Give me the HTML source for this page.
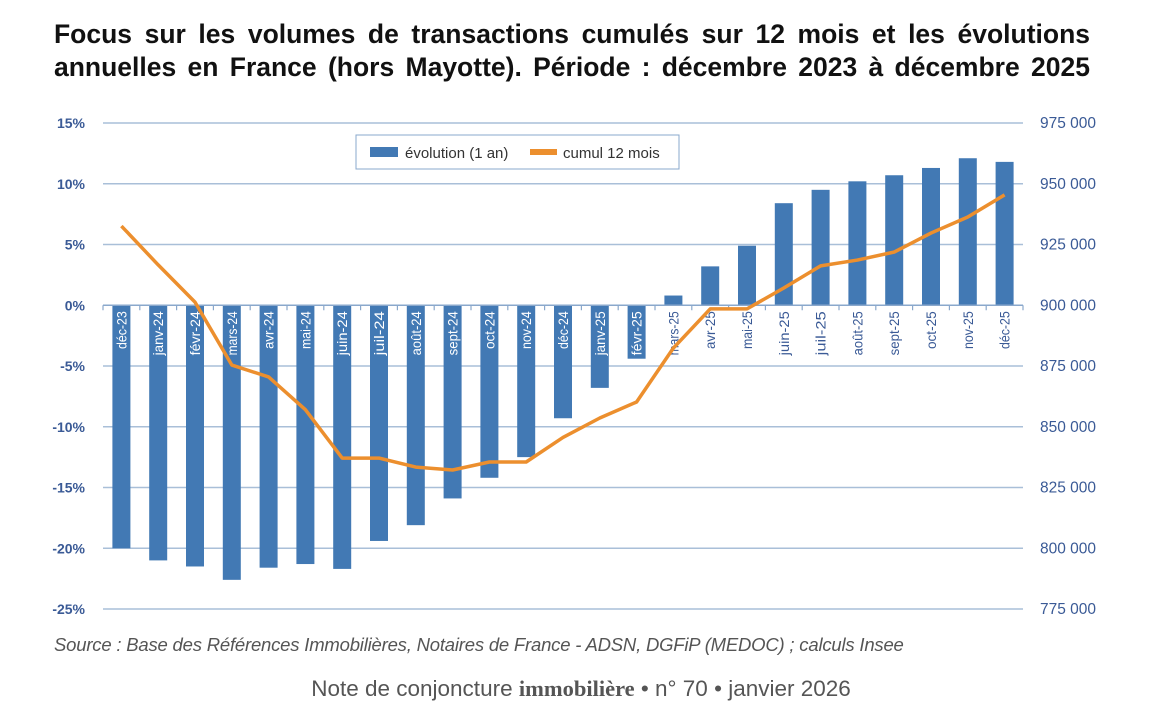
<!DOCTYPE html>
<html><head><meta charset="utf-8"><style>
body{margin:0;background:#fff;width:1162px;height:724px;overflow:hidden;font-family:"Liberation Sans",sans-serif}
.t{position:absolute;left:54px;top:18px;font-size:26.5px;font-weight:bold;line-height:33px;color:#111;width:1036px;text-align:justify;text-align-last:justify}
.src{position:absolute;left:54px;top:634px;font-size:18.5px;font-style:italic;color:#555;letter-spacing:-0.2px}
.foot{position:absolute;left:0;width:1162px;text-align:center;top:676px;font-size:22.5px;color:#555}
</style></head><body>
<div class="t">Focus sur les volumes de transactions cumulés sur 12 mois et les évolutions annuelles en France (hors Mayotte). Période : décembre 2023 à décembre 2025</div>
<svg id="c" width="1162" height="724" style="position:absolute;left:0;top:0"></svg>
<div class="src">Source : Base des Références Immobilières, Notaires de France - ADSN, DGFiP (MEDOC) ; calculs Insee</div>
<div class="foot">Note de conjoncture <b style="font-family:'Liberation Serif',serif">immobilière</b> • n° 70 • janvier 2026</div>
<script>
const categories=["déc-23","janv-24","févr-24","mars-24","avr-24","mai-24","juin-24","juil-24","août-24","sept-24","oct-24","nov-24","déc-24","janv-25","févr-25","mars-25","avr-25","mai-25","juin-25","juil-25","août-25","sept-25","oct-25","nov-25","déc-25"];
const evolution=[-20.0,-21.0,-21.5,-22.6,-21.6,-21.3,-21.7,-19.4,-18.1,-15.9,-14.2,-12.5,-9.3,-6.8,-4.4,0.8,3.2,4.9,8.4,9.5,10.2,10.7,11.3,12.1,11.8];
const cumul=[932600,916600,901300,875400,870500,857000,837100,837100,833400,832200,835500,835500,845600,853600,860200,882400,898500,898500,907100,916200,918600,921900,929700,936300,945400];
const leftTicks=[15,10,5,0,-5,-10,-15,-20,-25];
const rightTicks=[975000,950000,925000,900000,875000,850000,825000,800000,775000];
const NS="http://www.w3.org/2000/svg",svg=document.getElementById('c');
const X0=103,X1=1023,YT=123,YB=609;
const yL=v=>YT+(15-v)/40*(YB-YT);
const yR=v=>YT+(975000-v)/200000*(YB-YT);
const step=(X1-X0)/categories.length;
const xC=i=>X0+step*(i+0.5);
function el(t,a,p){const e=document.createElementNS(NS,t);for(const k in a)e.setAttribute(k,a[k]);(p||svg).appendChild(e);return e;}
const blue="#4279b4",tc="#3a5a96";
leftTicks.forEach(v=>{
 const g=el('line',{x1:X0,x2:X1,y1:yL(v),y2:yL(v),stroke:"#a9bfd8","stroke-width":1.5});
 
 
 const t=el('text',{x:85,y:yL(v)+5,"text-anchor":"end","font-size":14,fill:tc,"font-weight":"bold"});
 t.textContent=v+"%";
 
 
});
rightTicks.forEach(v=>{
 const t=el('text',{x:1040,y:yR(v)+5,"font-size":15.5,fill:tc});
 t.textContent=String(v).replace(/(\d{3})$/," $1");
 
 
});
const bw=18,y0=yL(0);
evolution.forEach((v,i)=>{
 const y=yL(v);
 let top=Math.min(y,y0),h=Math.abs(y-y0);
 const lbl=categories[i], lw=lbl.length*6.3;
 if(v<0&&h<lw+8)h=lw+8;
 const r=el('rect',{x:xC(i)-bw/2,y:top,width:bw,height:h,fill:blue});
 
 
});
el('line',{x1:X0,x2:X1,y1:y0,y2:y0,stroke:"#8aa8cc","stroke-width":1.5});
for(let i=0;i<=categories.length;i++)el('line',{x1:X0+step*i,x2:X0+step*i,y1:y0,y2:y0+5,stroke:"#8aa8cc","stroke-width":1.2});
categories.forEach((c,i)=>{
 const x=xC(i)+5,y=y0+6;
 const t=el('text',{x:x,y:y,"text-anchor":"end","font-size":14,textLength:c.length*6.3,lengthAdjust:"spacingAndGlyphs",fill:evolution[i]<0?"#fff":tc,transform:`rotate(-90 ${x} ${y})`});
 t.textContent=c;
 
 
});
const pts=cumul.map((v,i)=>xC(i)+","+yR(v)).join(" ");
const pl=el('polyline',{points:pts,fill:"none",stroke:"#ec8f2e","stroke-width":3.5,"stroke-linejoin":"round"});


const lg=el('g',{});


el('rect',{x:356,y:135,width:323,height:34,fill:"#fff",stroke:"#8aa8cc","stroke-width":1},lg);
el('rect',{x:370,y:147,width:28,height:10,fill:blue},lg);
const t1=el('text',{x:405,y:158,"font-size":15,fill:"#333"},lg);t1.textContent="évolution (1 an)";


el('rect',{x:530,y:149,width:27,height:6,fill:"#ec8f2e"},lg);
const t2=el('text',{x:563,y:158,"font-size":15,fill:"#333"},lg);t2.textContent="cumul 12 mois";


</script>
</body></html>
